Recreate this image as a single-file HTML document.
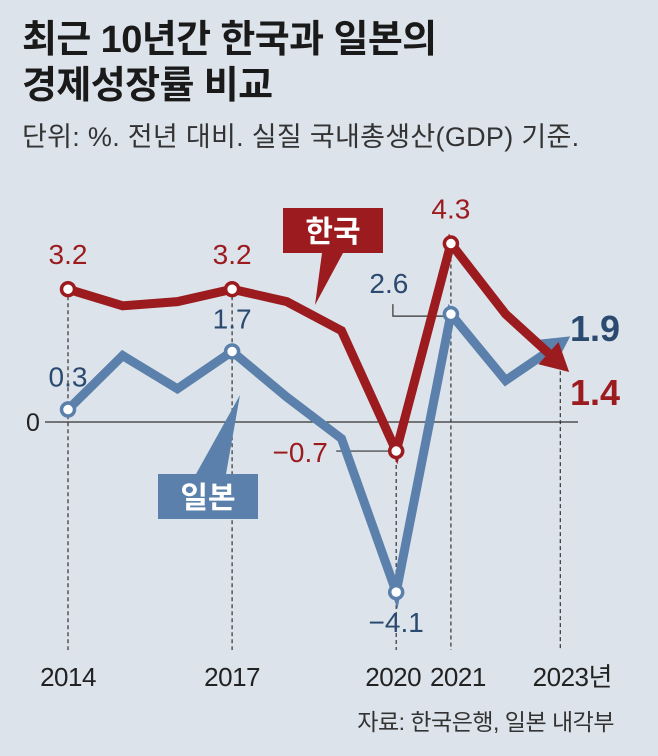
<!DOCTYPE html>
<html><head><meta charset="utf-8">
<style>
body{margin:0;background:#dce3ea;}
#wrap{position:relative;width:658px;height:756px;background:#dce3ea;font-family:"Liberation Sans","Noto Sans CJK KR",sans-serif;overflow:hidden}
.t{position:absolute;left:22px;font-weight:bold;font-size:38px;color:#1a1a1a;letter-spacing:-0.6px;line-height:44px}
.sub{position:absolute;left:22px;top:115px;font-size:27px;color:#333;letter-spacing:0.3px}
</style></head><body>
<div id="wrap">
<div class="t" style="top:18px">최근 10년간 한국과 일본의</div>
<div class="t" style="top:64px">경제성장률 비교</div>
<div class="sub">단위: %. 전년 대비. 실질 국내총생산(GDP) 기준.</div>
<svg id="svg" width="658" height="756" style="position:absolute;left:0;top:0"></svg>
</div>
<script>
const years=[2014,2015,2016,2017,2018,2019,2020,2021,2022,2023];
const korea=[3.2,2.8,2.9,3.2,2.9,2.2,-0.7,4.3,2.6,1.4];
const japan=[0.3,1.6,0.8,1.7,0.6,-0.4,-4.1,2.6,1.0,1.9];
const xTicks=["2014","2017","2020","2021","2023년"];
const xTickYears=[2014,2017,2020,2021,2023];
const koreaLabeled=[2014,2017,2020,2021];
const japanLabeled=[2014,2017,2020,2021];
const KR='#9b1b1e',JP='#5a80ab',JPT='#2b4a70';
const NS='http://www.w3.org/2000/svg';
const svg=document.getElementById('svg');
const x=y=>68+(y-2014)*54.7;
const yv=v=>422-v*41.5;
function el(t,a,p){const e=document.createElementNS(NS,t);for(const k in a)e.setAttribute(k,a[k]);(p||svg).appendChild(e);return e;}
let z=el('line',{x1:45,x2:578,y1:yv(0),y2:yv(0),stroke:'#333','stroke-width':1.2});


let zl=el('text',{x:26,y:yv(0)+9,'font-size':25,fill:'#222'});zl.textContent='0';


xTickYears.forEach((yr,i)=>{
  const ki=years.indexOf(yr);
  const top=Math.min(yv(korea[ki]),yv(japan[ki]));
  const l=el('line',{x1:x(yr),x2:x(yr),y1:top,y2:650,stroke:'#333','stroke-width':1.2,'stroke-dasharray':'4,3'});
  
  
  const t=el('text',{x:x(yr)+(i==4?12:(i==3?7:(i==2?-3:0))),y:686,'text-anchor':'middle','font-size':26,fill:'#222','letter-spacing':'-0.5'});
  t.textContent=xTicks[i];
  
  
});
el('polyline',{points:`${x(2020)-60},${yv(-0.7)} ${x(2020)},${yv(-0.7)}`,stroke:'#333',fill:'none','stroke-width':1.2});
el('polyline',{points:`${x(2021)-58},${yv(2.6)-10} ${x(2021)-58},${yv(2.6)+2} ${x(2021)},${yv(2.6)+2}`,stroke:'#333',fill:'none','stroke-width':1.2});
function series(data,color,name){
  const pts=data.map((v,i)=>[x(years[i]),yv(v)]);
  const n=pts.length,a=pts[n-2],b=pts[n-1];
  const dx=b[0]-a[0],dy=b[1]-a[1],L=Math.hypot(dx,dy),ux=dx/L,uy=dy/L;
  const tip=[b[0]+ux*12,b[1]+uy*12];
  const base=[tip[0]-ux*28,tip[1]-uy*28];
  const line=pts.slice(0,n-1).concat([base]);
  const p=el('polyline',{points:line.map(q=>q.join(',')).join(' '),fill:'none',stroke:color,'stroke-width':9,'stroke-linejoin':'miter'});
  
  
  const px=-uy,py=ux;
  const h=el('polygon',{points:`${tip[0]},${tip[1]} ${base[0]+px*15},${base[1]+py*15} ${base[0]-px*15},${base[1]-py*15}`,fill:color});
  
  
}
series(japan,JP,'japan');
series(korea,KR,'korea');
function markers(data,lab,color,tcolor,name,offs){
  lab.forEach((yr,j)=>{
    const i=years.indexOf(yr);
    const c=el('circle',{cx:x(yr),cy:yv(data[i]),r:6.5,fill:'#fff',stroke:color,'stroke-width':3.5});
    
    
    const o=offs[j];
    const t=el('text',{x:x(yr)+o[0],y:yv(data[i])+o[1],'text-anchor':'middle','font-size':28,fill:tcolor});
    t.textContent=(data[i]<0?'−'+Math.abs(data[i]):data[i].toFixed(1));
    
    
  });
}
markers(korea,koreaLabeled,KR,KR,'korea',[[0,-25],[0,-25],[-96,11],[0,-25]]);
markers(japan,japanLabeled,JP,JPT,'japan',[[0,-23],[0,-23],[0,40],[-62,-21]]);
let e1=el('text',{x:595,y:yv(japan[9])-2,'text-anchor':'middle','font-size':36,'font-weight':'bold',fill:JPT});e1.textContent=japan[9].toFixed(1);


let e2=el('text',{x:595,y:yv(korea[9])+41,'text-anchor':'middle','font-size':36,'font-weight':'bold',fill:KR});e2.textContent=korea[9].toFixed(1);


let kb=el('path',{d:'M283,208 H383 V253 H343 L315,305 L322,253 H283 Z',fill:KR});


let kt=el('text',{x:333,y:242,'text-anchor':'middle','font-size':30,'font-weight':'bold',fill:'#fff'});kt.textContent='한국';


let jb=el('path',{d:'M158,474 H196 L240,395 L226,474 H258 V519 H158 Z',fill:JP});


let jt=el('text',{x:208,y:508,'text-anchor':'middle','font-size':30,'font-weight':'bold',fill:'#fff'});jt.textContent='일본';


let src=el('text',{x:614,y:730,'text-anchor':'end','font-size':23,fill:'#333','letter-spacing':'-0.5'});src.textContent='자료: 한국은행, 일본 내각부';


</script>
</body></html>
